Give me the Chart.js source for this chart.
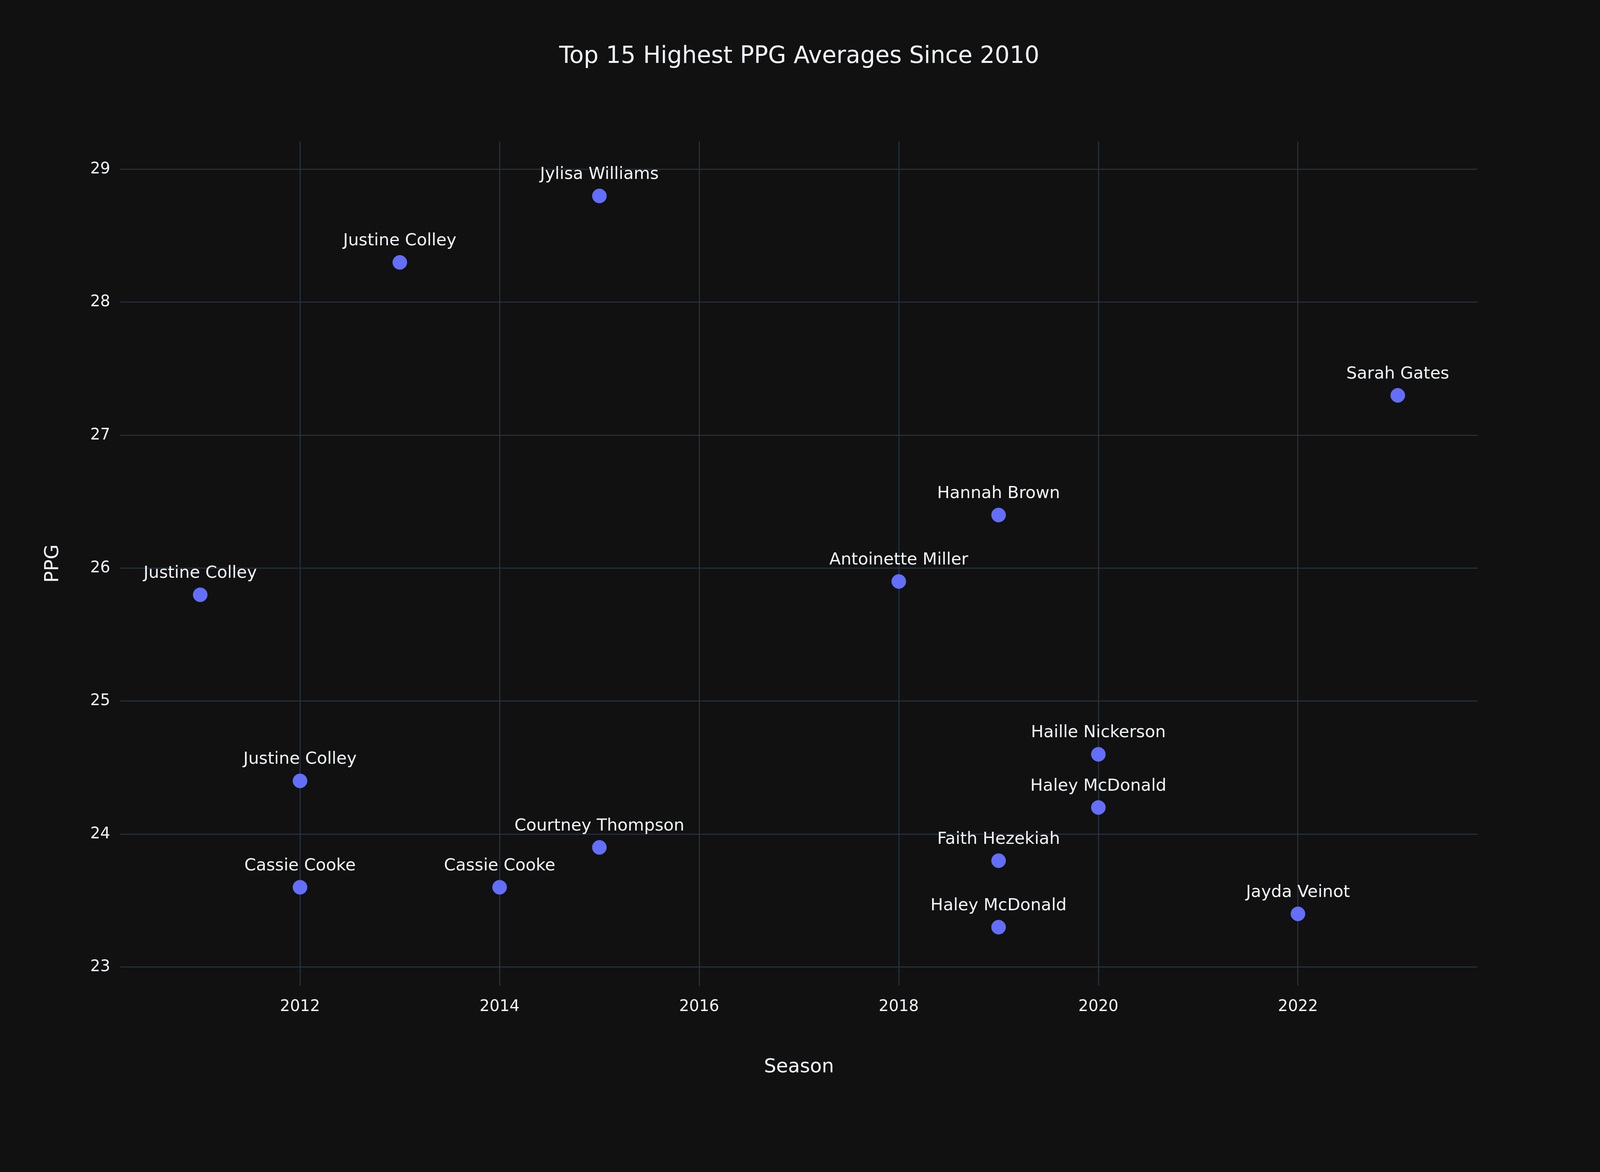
<!DOCTYPE html>
<html>
<head>
<meta charset="utf-8">
<style>
  html, body { margin: 0; padding: 0; background: #111111; overflow: hidden; }
  #wrap { position: relative; width: 100vw; height: 100vh; }
</style>
<script src="https://cdn.jsdelivr.net/npm/chart.js@4.4.1/dist/chart.umd.min.js"></script>
</head>
<body>
<div id="wrap"><canvas id="chart"></canvas></div>
<script>
// Data
const seasons = [2011, 2012, 2012, 2013, 2014, 2015, 2015, 2018, 2019, 2019, 2019, 2020, 2020, 2022, 2023];
const ppg = [25.8, 24.4, 23.6, 28.3, 23.6, 28.8, 23.9, 25.9, 26.4, 23.8, 23.3, 24.6, 24.2, 23.4, 27.3];
const players = ['Justine Colley', 'Justine Colley', 'Cassie Cooke', 'Justine Colley', 'Cassie Cooke',
  'Jylisa Williams', 'Courtney Thompson', 'Antoinette Miller', 'Hannah Brown', 'Faith Hezekiah',
  'Haley McDonald', 'Haille Nickerson', 'Haley McDonald', 'Jayda Veinot', 'Sarah Gates'];
const xTicks = [2012, 2014, 2016, 2018, 2020, 2022];
const yTicks = [23, 24, 25, 26, 27, 28, 29];

const FONT = '"DejaVu Sans", Verdana, sans-serif';
const TEXT = '#f2f5fa';
const GRID = '#283442';

// everything is laid out for 6300x3000 and scaled to the real size
const sx = c => c.width / 6300;
const sy = c => c.height / 3000;

const textPlugin = {
  id: 'textPlugin',
  afterDatasetsDraw(chart) {
    const ctx = chart.ctx;
    const area = chart.chartArea;
    const k = sx(chart);
    ctx.save();
    ctx.fillStyle = TEXT;
    ctx.textAlign = 'center';
    ctx.textBaseline = 'middle';

    ctx.font = (66 * k) + 'px ' + FONT;
    chart.getDatasetMeta(0).data.forEach((pt, i) => {
      ctx.fillText(players[i], pt.x, pt.y - 84 * k);
    });

    ctx.font = (92 * k) + 'px ' + FONT;
    ctx.fillText('Top 15 Highest PPG Averages Since 2010', 3147 * k, 145 * sy(chart));

    ctx.font = (76 * k) + 'px ' + FONT;
    ctx.fillText('Season', (area.left + area.right) / 2, 2732 * sy(chart));

    ctx.translate(209 * k, (area.top + area.bottom) / 2);
    ctx.rotate(-Math.PI / 2);
    ctx.fillText('PPG', 0, 0);
    ctx.restore();
  }
};

new Chart(document.getElementById('chart'), {
  type: 'scatter',
  data: {
    datasets: [{
      data: seasons.map((s, i) => ({ x: s, y: ppg[i] })),
      backgroundColor: '#636efa',
      borderColor: '#636efa',
      pointRadius: c => 28 * sx(c.chart),
      pointHoverRadius: c => 28 * sx(c.chart)
    }]
  },
  options: {
    responsive: true,
    maintainAspectRatio: false,
    animation: false,
    layout: { padding: c => ({ top: 362 * sy(c.chart), right: 482 * sx(c.chart), left: 0, bottom: 0 }) },
    plugins: { legend: { display: false }, tooltip: { enabled: false } },
    scales: {
      x: {
        type: 'linear',
        min: 2010.2,
        max: 2023.8,
        afterBuildTicks: s => { s.ticks = xTicks.map(v => ({ value: v })); },
        afterFit: s => { s.height = 477 * sy(s.chart); },
        grid: { color: GRID, lineWidth: c => 4 * sx(c.chart), drawTicks: false },
        border: { display: false },
        ticks: {
          color: TEXT,
          font: c => ({ family: FONT, size: 62 * sx(c.chart) }),
          padding: 30,
          callback: v => String(v)
        }
      },
      y: {
        min: 22.86,
        max: 29.21,
        afterBuildTicks: s => { s.ticks = yTicks.map(v => ({ value: v })); },
        afterFit: s => { s.width = 474 * sx(s.chart); },
        grid: { color: GRID, lineWidth: c => 4 * sx(c.chart), drawTicks: false },
        border: { display: false },
        ticks: {
          color: TEXT,
          font: c => ({ family: FONT, size: 62 * sx(c.chart) }),
          padding: 26
        }
      }
    }
  },
  plugins: [textPlugin]
});
</script>
</body>
</html>
